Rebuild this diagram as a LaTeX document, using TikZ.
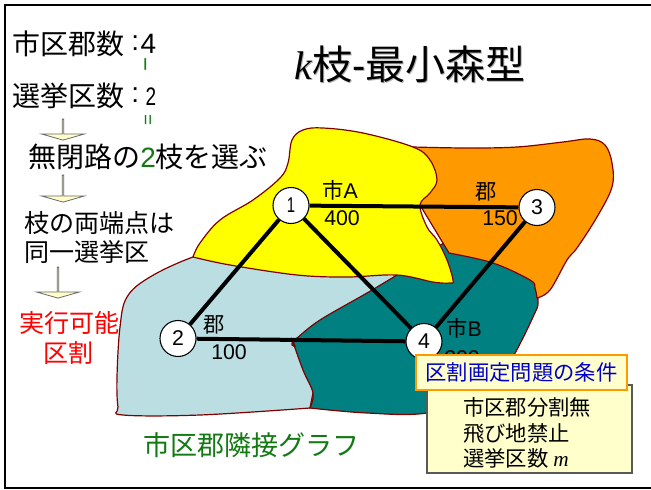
\documentclass[tikz,border=0pt]{standalone}
\usepackage{fontspec}
\setmainfont{Liberation Sans}
\newfontfamily\jp{Noto Sans CJK JP}
\newfontfamily\tms{Liberation Serif}
\usetikzlibrary{shapes.arrows}
\definecolor{regionline}{HTML}{800000}
\definecolor{cityA}{HTML}{FFFF00}
\definecolor{gunC}{HTML}{FF9900}
\definecolor{cityB}{HTML}{008080}
\definecolor{gunD}{HTML}{BADEE2}
\definecolor{paleyellow}{HTML}{FFFFCC}
\definecolor{darkgreen}{HTML}{137A13}
\newcommand{\fs}[1]{\fontsize{#1}{#1}\selectfont}

\begin{document}
\begin{tikzpicture}[x=0.75pt, y=-0.75pt,
  region/.style={draw=regionline, line width=0.9pt},
  vertex/.style={circle, draw, fill=white, line width=0.8pt, minimum size=27pt, inner sep=0pt, font=\fs{16pt}},
  edge/.style={black, line width=3pt},
  big/.style={anchor=west, inner sep=0pt, font=\jp\fs{21pt}},
  mid/.style={anchor=west, inner sep=0pt, font=\jp\fs{18.8pt}},
  small/.style={anchor=west, inner sep=0pt, font=\fs{16pt}},
  flowarrow/.style={single arrow, draw=black!60, fill=paleyellow, line width=0.6pt, inner sep=0pt,
    shape border rotate=270, single arrow tip angle=148, single arrow head extend=7.9pt, minimum width=31.5pt},
  ]
  \useasboundingbox (0,0) rectangle (651,490);
  \fill[white] (0,0) rectangle (651,490);
  \draw[black, line width=2pt] (651,5) -- (5,5) -- (5,488) -- (651,488);

  \draw[region, fill=gunD] plot[smooth, tension=0.6] coordinates {(397,275) (350,262) (250,240) (193,257) (150,277) (127,297) (120,327) (117,377) (118,407) (123,415) (200,415) (310,408)} -- (313,393) -- cycle;
  \draw[region, fill=cityB] plot[smooth, tension=0.6] coordinates {(397,275) (367,293) (320,320) (297,338) (293,341) (292,345) (295,346) (293,342) (303,370) (313,393) (310,408)} -- plot[smooth, tension=0.6] coordinates {(310,408) (367,413) (427,413) (490,395) (513,357) (533,317) (538,300) (530,270) (460,240) (420,260) (397,275)};
  \draw[region, fill=gunC] plot[smooth, tension=0.6] coordinates {(413,147) (467,148) (517,147) (563,142) (590,139) (605,145) (612,163) (612,187) (597,217) (577,248) (567,260) (550,290) (537,298)} -- plot[smooth, tension=0.6] coordinates {(537,298) (535,288) (530,280) (493,263) (449,253)} -- (420,205) -- cycle;
  \draw[region, fill=cityA] plot[smooth, tension=0.6] coordinates {(193,257) (200,243) (220,220) (253,200) (280,178) (288,163) (292,140) (303,130) (323,128) (363,133) (413,147) (430,160) (437,180) (430,193) (420,205) (427,227) (437,240) (447,260) (453,280) (450,283) (433,282) (397,275) (347,277) (297,275) (230,265) (193,257)};

  \node[vertex] (n1) at (291,205.5) {\scalebox{0.7}[1]{1}};
  \node[vertex] (n2) at (178,338.5) {2};
  \node[vertex] (n3) at (537,207.5) {3};
  \node[vertex] (n4) at (424,341.5) {4};
  \draw[edge] (n1) -- (n2);
  \draw[edge] (n1) -- (n3);
  \draw[edge] (n1) -- (n4);
  \draw[edge] (n2) -- (n4);
  \draw[edge] (n3) -- (n4);

  \node[small] (labelA) at (322,190) {{\jp 市}A};
  \node[small] (popA) at (324,218) {400};
  \node[small] (labelC) at (475,192) {{\jp 郡}};
  \node[small] (popC) at (482,218) {150};
  \node[small] (labelD) at (203,325) {{\jp 郡}};
  \node[small] (popD) at (211,352) {100};
  \node[small] (labelB) at (446,328) {{\jp 市}B};
  \node[small] (popB) at (444,358) {200};

  \node[big] (cities) at (12,44) {市区郡数};
  \node[big, font=\fs{21pt}] (colonA) at (131,43) {:};
  \node[big, anchor=center, font=\fs{21pt}] (numCities) at (148.5,44) {4};
  \node[rotate=90, inner sep=0pt, text=darkgreen, font=\fs{18pt}] (minus) at (149,64) {−};
  \node[big] (seats) at (12,96) {選挙区数};
  \node[big, font=\fs{21pt}] (colonB) at (131,95) {:};
  \node[big, anchor=center, font=\fs{19pt}] (numSeats) at (151,97) {\scalebox{0.75}[1]{2}};
  \node[rotate=90, inner sep=0pt, text=darkgreen, font=\fs{14pt}] (equal) at (149.5,120) {=};

  \node[flowarrow, minimum height=15.75pt] (arrowA) at (63,129.5) {};
  \node[big] (pick) at (28,157) {無閉路の{\fontspec{Liberation Sans}\textcolor{darkgreen}{2}}枝を選ぶ};
  \node[flowarrow, minimum height=20.25pt] (arrowB) at (63,188.5) {};
  \node[mid] (ends) at (24,223) {枝の両端点は};
  \node[mid] (same) at (24,252) {同一選挙区};
  \node[flowarrow, minimum height=23.25pt] (arrowC) at (58,282.5) {};
  \node[mid, text=red] (feasible) at (19,323) {実行可能};
  \node[mid, text=red, anchor=center] (partition) at (68.5,353) {区割};

  \node[anchor=west, inner sep=0pt, text=black!30, font=\fs{30pt}] (titleshadow) at (295.5,65.5) {{\tms\itshape k}{\jp 枝}-{\jp 最小森型}};
  \node[anchor=west, inner sep=0pt, font=\fs{30pt}] (title) at (294,64) {{\tms\itshape k}{\jp 枝}-{\jp 最小森型}};

  \node[big, text=darkgreen, font=\jp\fs{20.3pt}] (graphname) at (143,445) {市区郡隣接グラフ};

  \draw[fill=paleyellow, draw=black!65, line width=0.9pt] (427,385) rectangle (632,473);
  \node[draw=gunC, fill=paleyellow, line width=1.6pt, minimum width=158pt, minimum height=26pt, inner sep=0pt, text=blue!80!black, font=\jp\fs{16pt}] (condition) at (521.5,372.5) {区割画定問題の条件};
  \node[small, font=\jp\fs{16pt}] (condA) at (463,407) {市区郡分割無};
  \node[small, font=\jp\fs{16pt}] (condB) at (463,433) {飛び地禁止};
  \node[small, font=\jp\fs{16pt}] (condC) at (463,458) {選挙区数 {\tms\itshape m}};
\end{tikzpicture}
\end{document}
